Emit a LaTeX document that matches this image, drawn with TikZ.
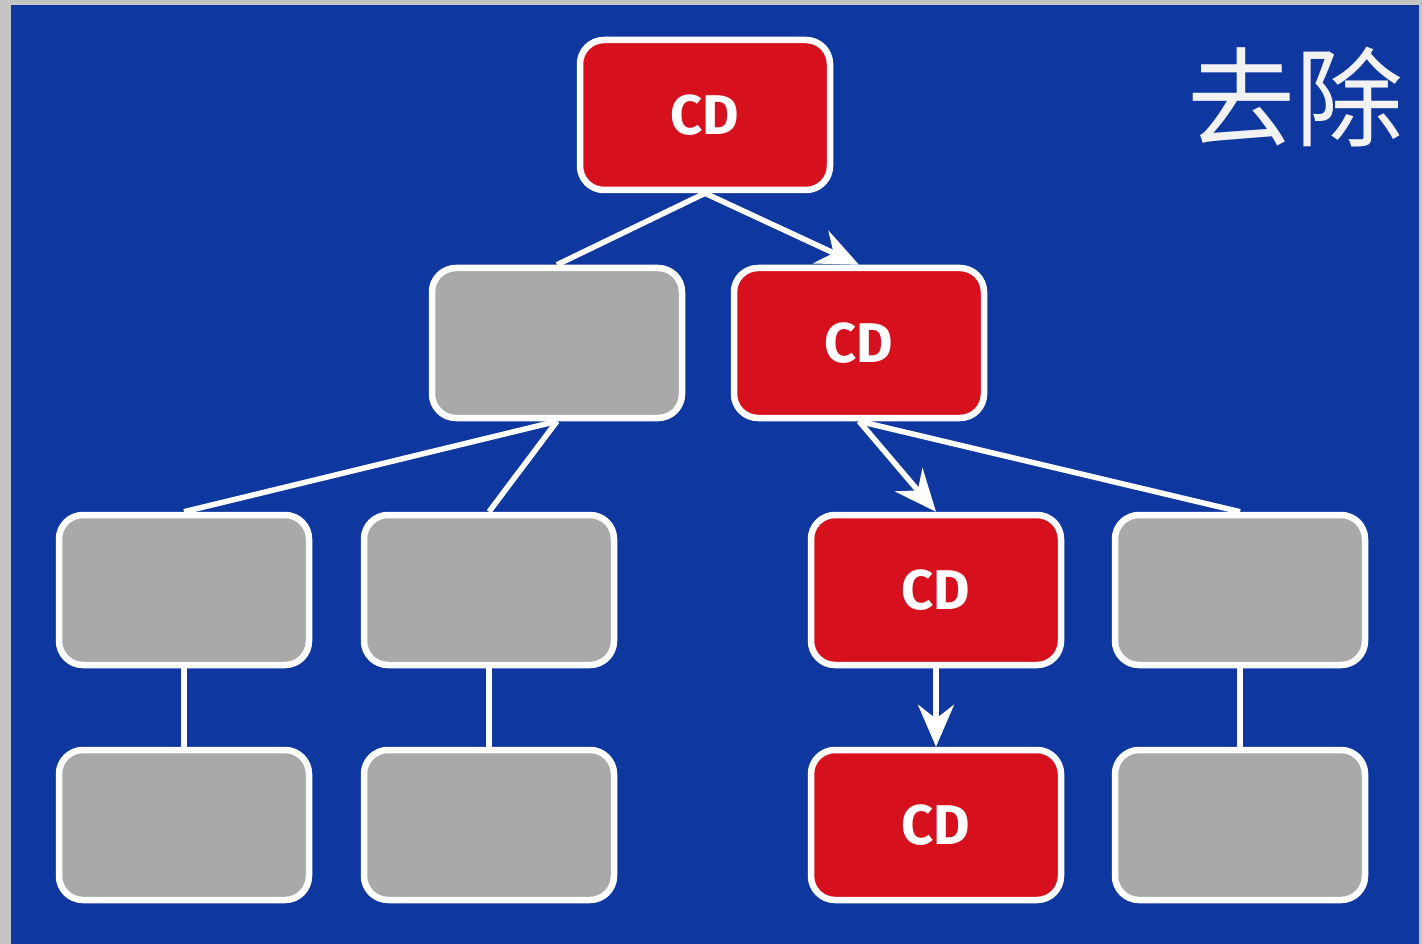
\documentclass[tikz,border=0pt]{standalone}
\usepackage{fontspec}
\setsansfont{Fira Sans}
\newfontfamily\cjk{Noto Sans CJK SC}
\usetikzlibrary{arrows.meta}
\definecolor{bgblue}{HTML}{0E37A0}
\definecolor{boxred}{HTML}{D7101E}
\definecolor{boxgray}{HTML}{A9A9A9}
\definecolor{edgegray}{HTML}{C4C4C4}
\definecolor{titlewhite}{HTML}{F2F2F2}
\tikzset{
  box/.style={draw=white,line width=6.5pt,rounded corners=24pt,minimum width=250pt,minimum height=150pt,inner sep=0pt},
  redbox/.style={box,fill=boxred,text=white,font=\sffamily\bfseries\fontsize{56}{60}\selectfont},
  graybox/.style={box,fill=boxgray},
  link/.style={draw=white,line width=5.5pt},
  hit/.style={link,-{Stealth[length=42pt,width=36pt,inset=14pt]}}
}
\begin{document}
\begin{tikzpicture}[x=1pt,y=-1pt]
\useasboundingbox (0,0) rectangle (1422,944);
\fill[edgegray] (0,0) rectangle (1422,944);
\fill[bgblue] (11,5) rectangle (1419,944);
% tree
\node[redbox] (root) at (705,115) {CD};
\node[graybox] (l) at (557,343) {};
\node[redbox] (r) at (859,343) {CD};
\node[graybox] (ll) at (184,590) {};
\node[graybox] (lr) at (489,590) {};
\node[redbox] (rl) at (936,590) {CD};
\node[graybox] (rr) at (1240,590) {};
\node[graybox] (lll) at (184,825) {};
\node[graybox] (lrl) at (489,825) {};
\node[redbox] (rll) at (936,825) {CD};
\node[graybox] (rrl) at (1240,825) {};
\draw[link] (root.south)--(l.north);
\draw[hit] (root.south)--(r.north);
\draw[link] (l.south)--(ll.north);
\draw[link] (l.south)--(lr.north);
\draw[hit] (r.south)--(rl.north);
\draw[link] (r.south)--(rr.north);
\draw[link] (ll.south)--(lll.north);
\draw[link] (lr.south)--(lrl.north);
\draw[hit] (rl.south)--(rll.north);
\draw[link] (rr.south)--(rrl.north);
% title
\node[text=titlewhite,font=\cjk\fontsize{108}{108}\selectfont,inner sep=0pt] (title) at (1295,97) {去除};
\end{tikzpicture}
\end{document}
